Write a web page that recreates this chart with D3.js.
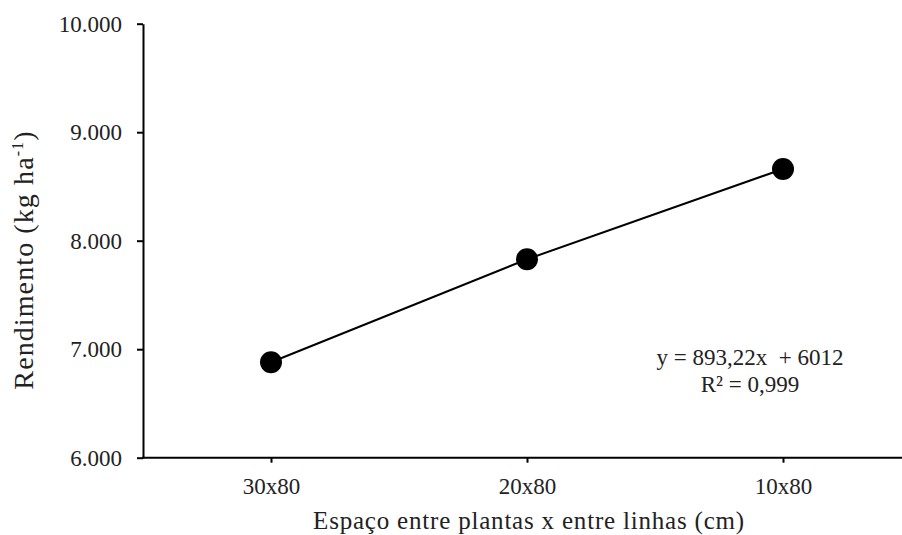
<!DOCTYPE html>
<html><head><meta charset="utf-8">
<script src="https://cdn.jsdelivr.net/npm/d3@7"></script>
<style>
body{margin:0;background:#fff;}
svg text{font-family:"Liberation Serif","Times New Roman",serif;fill:#222;}
</style></head>
<body><svg id="c" width="902" height="535"></svg>
<script>
const categories = ["30x80", "20x80", "10x80"];
const values = [6880, 7829, 8661];
const yTicks = [6000, 7000, 8000, 9000, 10000];
const yTickLabels = ["6.000", "7.000", "8.000", "9.000", "10.000"];
const equationLines = ["y = 893,22x\u00a0 + 6012", "R² = 0,999"];
const xTitle = "Espaço entre plantas x entre linhas (cm)";

const svg = d3.select("#c");
const mLeft = 143, mRight = 911, mTop = 23.7, mBottom = 457.7;
const FF = '"Liberation Serif","Times New Roman",serif';

const x = d3.scalePoint().domain(categories).range([mLeft, mRight]).padding(0.5);
const y = d3.scaleLinear().domain([6000, 10000]).range([mBottom, mTop]);

const fs = 23;

// Y axis
const yAxis = svg.append("g").attr("transform", `translate(${mLeft},0)`)
  .call(d3.axisLeft(y).tickValues(yTicks).tickSize(6).tickSizeOuter(0)
    .tickFormat((d, i) => yTickLabels[i]));
yAxis.attr("font-family", FF).attr("font-size", fs);
yAxis.select(".domain").attr("stroke", "#000").attr("stroke-width", 2);
yAxis.selectAll(".tick line").attr("stroke", "#000").attr("stroke-width", 2);
yAxis.selectAll(".tick text").attr("x", -21).attr("fill", "#222");

// X axis
const xAxis = svg.append("g").attr("transform", `translate(0,${mBottom})`)
  .call(d3.axisBottom(x).tickSize(5).tickSizeOuter(0));
xAxis.attr("font-family", FF).attr("font-size", fs);
xAxis.select(".domain").attr("stroke", "#000").attr("stroke-width", 2)
  .attr("d", `M${mLeft - 1},0H${mRight}`);
xAxis.selectAll(".tick line").attr("stroke", "#000").attr("stroke-width", 2);
xAxis.selectAll(".tick text").attr("y", 20).attr("fill", "#222");

// line
const data = categories.map((c, i) => ({c, v: values[i]}));
svg.append("path").datum(data)
  .attr("fill", "none").attr("stroke", "#000").attr("stroke-width", 2)
  .attr("d", d3.line().x(d => x(d.c)).y(d => y(d.v)));

svg.selectAll("circle.pt").data(data).enter().append("circle")
  .attr("class", "pt")
  .attr("cx", d => x(d.c)).attr("cy", d => y(d.v)).attr("r", 11)
  .attr("fill", "#000");

// equation
const eq = svg.append("text").attr("text-anchor", "middle").attr("font-size", fs)
  .attr("font-family", FF);
equationLines.forEach((t, i) => {
  eq.append("tspan").attr("x", 750).attr("y", 365 + i * 27).text(t);
});

// axis titles
svg.append("text").attr("text-anchor", "middle").attr("font-size", 28)
  .attr("font-family", FF).attr("letter-spacing", 1.1)
  .attr("transform", "translate(33,260) rotate(-90)")
  .html('Rendimento (kg ha<tspan dy="-10" font-size="16">-1</tspan><tspan dy="10">)</tspan>');

svg.append("text").attr("text-anchor", "middle").attr("font-size", 25)
  .attr("font-family", FF).attr("letter-spacing", 0.8)
  .attr("x", 529).attr("y", 529).text(xTitle);
</script></body></html>
